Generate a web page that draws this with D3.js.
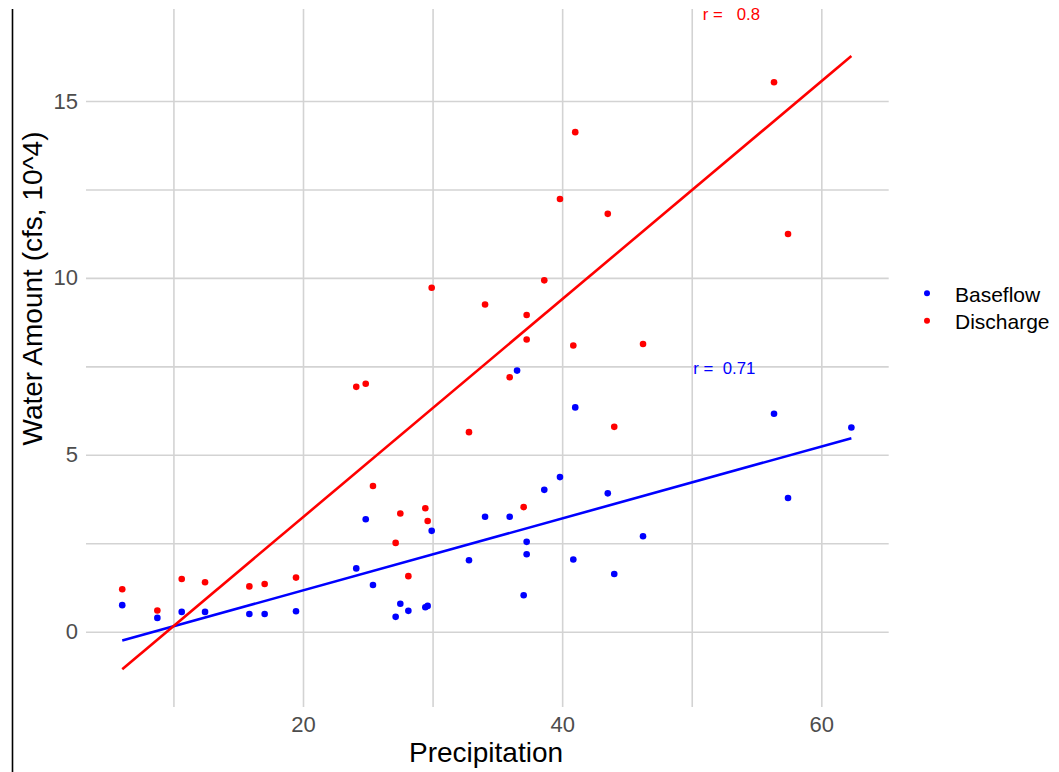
<!DOCTYPE html>
<html><head><meta charset="utf-8">
<script src="https://cdn.jsdelivr.net/npm/d3@7"></script>
<style>
body{margin:0;background:#fff}
svg{display:block}
text{font-family:"Liberation Sans",Arial,Helvetica,sans-serif}
</style>
</head><body>
<svg id="chart" width="1059" height="772"></svg>
<script>
// ---- data ----
const precipitation = [6.05, 8.76, 10.64, 12.44, 15.86, 17.04, 19.46, 24.11, 24.84, 25.40,
  27.15, 27.51, 28.13, 29.44, 29.62, 29.93, 32.81, 34.05, 35.95, 36.52,
  37.03, 37.26, 37.26, 38.62, 39.83, 40.86, 41.01, 43.52, 44.02, 46.24,
  56.35, 57.43, 62.32];
const baseflow = [0.75, 0.39, 0.56, 0.56, 0.50, 0.50, 0.58, 1.79, 3.18, 1.32,
  0.42, 0.79, 0.59, 0.69, 0.73, 2.85, 2.02, 3.25, 3.25, 7.38,
  1.03, 2.54, 2.19, 4.01, 4.37, 2.04, 6.34, 3.91, 1.63, 2.70,
  6.16, 3.78, 5.77];
const discharge = [1.20, 0.60, 1.49, 1.40, 1.28, 1.35, 1.53, 6.92, 7.01, 4.12,
  2.51, 3.34, 1.57, 3.49, 3.13, 9.72, 5.64, 9.25, 7.19, null,
  3.52, 8.95, 8.26, 9.93, 12.23, 8.09, 14.12, 11.81, 5.79, 8.13,
  15.53, 11.24, null];
const fitX = [6.05, 62.32];
const baseflowFit = [-0.25, 5.47];
const dischargeFit = [-1.06, 16.27];
const seriesNames = ["Baseflow", "Discharge"];
const seriesColors = ["#0000ff", "#ff0000"];
const annoLabels = ["r =  0.71", "r =   0.8"];
const annoX = [50.12, 50.85];
const annoY = [7.43, 17.44];
const xMajor = [20, 40, 60];
const xGrid = [10, 20, 30, 40, 50, 60];
const yMajor = [0, 5, 10, 15];
const yGrid = [0, 2.5, 5, 7.5, 10, 12.5, 15];

// ---- layout ----
const svg = d3.select("#chart");
const L = 86, R = 888.7, T = 9, B = 707;
const x = d3.scaleLinear().domain([3.253, 65.20]).range([L, R]);
const y = d3.scaleLinear().domain([-2.128, 17.60]).range([B, T]);
const color = d3.scaleOrdinal().domain(seriesNames).range(seriesColors);

// left black border line
svg.append("line").attr("x1", 12.5).attr("x2", 12.5).attr("y1", T).attr("y2", 772)
  .attr("stroke", "#000").attr("stroke-width", 1.6);

// grid
const gx = svg.append("g").attr("transform", `translate(0,${B})`)
  .call(d3.axisBottom(x).tickValues(xGrid).tickSize(-(B - T)).tickFormat(""));
gx.select(".domain").remove();
gx.selectAll("line").attr("stroke", "#d3d3d3").attr("stroke-width", 1.6);
const gy = svg.append("g").attr("transform", `translate(${L},0)`)
  .call(d3.axisLeft(y).tickValues(yGrid).tickSize(-(R - L)).tickFormat(""));
gy.select(".domain").remove();
gy.selectAll("line").attr("stroke", "#d3d3d3").attr("stroke-width", 1.6);

// tick labels
const ax = svg.append("g").attr("transform", `translate(0,${B})`)
  .call(d3.axisBottom(x).tickValues(xMajor).tickSize(0).tickPadding(9.7).tickFormat(d3.format("d")));
ax.select(".domain").remove();
ax.selectAll("text").attr("fill", "#4d4d4d").style("font-size", "22px")
  .style("font-family", '"Liberation Sans",Arial,sans-serif');
const ay = svg.append("g").attr("transform", `translate(${L},0)`)
  .call(d3.axisLeft(y).tickValues(yMajor).tickSize(0).tickPadding(8).tickFormat(d3.format("d")));
ay.select(".domain").remove();
ay.selectAll("text").attr("fill", "#4d4d4d").style("font-size", "22px")
  .style("font-family", '"Liberation Sans",Arial,sans-serif');

// axis titles
svg.append("text").attr("x", 486).attr("y", 761.5)
  .attr("text-anchor", "middle")
  .style("font-size", "28px").attr("fill", "#000").text("Precipitation");
svg.append("text").attr("transform", "translate(41.7,288.5) rotate(-90)")
  .attr("text-anchor", "middle").style("font-size", "28px").attr("fill", "#000")
  .text("Water Amount (cfs, 10^4)");

// regression lines
const fits = [baseflowFit, dischargeFit];
const lineGen = d3.line().x(d => x(d[0])).y(d => y(d[1]));
fits.forEach((f, i) => {
  svg.append("path").datum(fitX.map((v, j) => [v, f[j]]))
    .attr("d", lineGen).attr("fill", "none")
    .attr("stroke", seriesColors[i]).attr("stroke-width", 2.6);
});

// points
const seriesVals = [baseflow, discharge];
seriesVals.forEach((vals, i) => {
  const pts = precipitation.map((p, j) => [p, vals[j]]).filter(d => d[1] !== null);
  svg.append("g").selectAll("circle").data(pts).join("circle")
    .attr("cx", d => x(d[0])).attr("cy", d => y(d[1])).attr("r", 3.3)
    .attr("fill", color(seriesNames[i]));
});

// annotations
annoLabels.forEach((lab, i) => {
  svg.append("text").attr("x", x(annoX[i])).attr("y", y(annoY[i]))
    .attr("dominant-baseline", "central").style("white-space", "pre")
    .attr("xml:space", "preserve")
    .style("font-size", "16.8px").attr("fill", seriesColors[i]).text(lab);
});

// legend
const legY = [293.3, 320.7];
seriesNames.forEach((n, i) => {
  svg.append("circle").attr("cx", 927).attr("cy", legY[i]).attr("r", 3)
    .attr("fill", color(n));
  svg.append("text").attr("x", 955).attr("y", legY[i] + 8.2)
    .style("font-size", "21px").attr("fill", "#000").text(n);
});
</script>
</body></html>
